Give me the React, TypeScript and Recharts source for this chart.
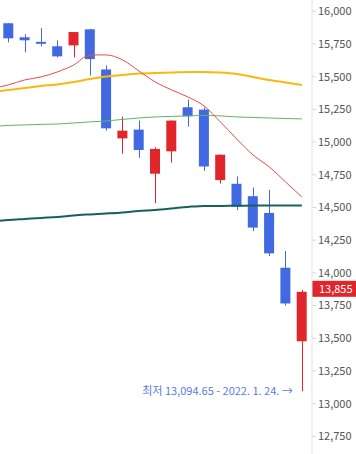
import { Bar, ComposedChart, Line, ReferenceDot, ReferenceLine, XAxis, YAxis } from "recharts";

// trading days, first one only feeds the averages (it sits off the left edge)
const dates = [
  "12.27", "12.28", "12.29", "12.30", "12.31", "1.3", "1.4", "1.5", "1.6", "1.7",
  "1.10", "1.11", "1.12", "1.13", "1.14", "1.18", "1.19", "1.20", "1.21", "1.24",
];
const opens = [null, 15908, 15801, 15766, 15732, 15739, 15862, 15555, 15028, 15095, 14758, 14929, 15266, 15248, 14709, 14681, 14586, 14458, 14039, 13477];
const highs = [null, 15910, 15824, 15870, 15778, 15841, 15865, 15586, 15195, 15164, 14960, 15166, 15325, 15264, 14905, 14737, 14652, 14635, 14167, 13870];
const lows = [null, 15762, 15686, 15732, 15647, 15647, 15509, 15087, 14911, 14880, 14532, 14843, 15118, 14780, 14683, 14479, 14320, 14129, 13750, 13094.65];
const closes = [null, 15793, 15778, 15751, 15655, 15841, 15634, 15105, 15087, 14939, 14947, 15164, 15197, 14813, 14903, 14507, 14346, 14149, 13766, 13855];

const ma5 = [15410, 15437, 15475, 15498, 15536, 15589, 15666, 15666, 15628, 15544, 15460, 15399, 15345, 15276, 15154, 15024, 14902, 14810, 14695, 14580];
const ma20 = [15383, 15398, 15413, 15429, 15440, 15459, 15482, 15502, 15513, 15524, 15528, 15532, 15536, 15536, 15532, 15521, 15498, 15475, 15456, 15437];
const ma60 = [15119, 15127, 15131, 15135, 15138, 15146, 15154, 15161, 15173, 15184, 15192, 15196, 15200, 15203, 15200, 15192, 15188, 15184, 15180, 15177];
const ma120 = [14393, 14404, 14412, 14420, 14427, 14439, 14447, 14454, 14462, 14473, 14481, 14492, 14504, 14512, 14512, 14513, 14514, 14514, 14515, 14515];

const yTicks = [12750, 13000, 13250, 13500, 13750, 14000, 14250, 14500, 14750, 15000, 15250, 15500, 15750, 16000];
const lastPrice = 13855;
const lowPoint = { date: "1.24", value: 13094.65, text: "최저 13,094.65 - 2022. 1. 24. →" };

const UP = "#e0262b";
const DOWN = "#4169e1";

const data = dates.map((date, i) => ({
  date,
  open: opens[i],
  high: highs[i],
  low: lows[i],
  close: closes[i],
  ma5: ma5[i],
  ma20: ma20[i],
  ma60: ma60[i],
  ma120: ma120[i],
}));

function Candle(props: any) {
  const { x, y, width, height, payload } = props;
  if (payload.open == null || !height) return null;
  const { open, close, high, low } = payload;
  const h = Math.abs(height);
  const top = Math.min(y, y + height);
  const per = h / (high - low);
  const yOf = (v: number) => top + (high - v) * per;
  const color = close >= open ? UP : DOWN;
  const bodyTop = yOf(Math.max(open, close));
  const bodyH = Math.max(1, yOf(Math.min(open, close)) - bodyTop);
  const cx = Math.round(x + width / 2) + 0.5;
  return (
    <g>
      <line x1={cx} x2={cx} y1={top} y2={top + h} stroke={color} strokeWidth={1} />
      <rect x={x} y={bodyTop} width={width} height={bodyH} fill={color} />
    </g>
  );
}

function PriceTag({ viewBox }: any) {
  if (!viewBox) return null;
  const right = viewBox.x + viewBox.width;
  return (
    <g>
      <rect x={right} y={viewBox.y - 11} width={44} height={16} fill={UP} />
      <text x={right + 7} y={viewBox.y + 1} fill="#fff" fontSize={11}>
        {lastPrice.toLocaleString("en-US")}
      </text>
    </g>
  );
}

export default function App() {
  return (
    <div
      style={{
        position: "absolute",
        left: 0,
        top: 0,
        width: 356,
        height: 454,
        overflow: "hidden",
        fontFamily: "'Noto Sans CJK KR', 'Noto Sans', sans-serif",
      }}
    >
      <div style={{ marginLeft: -16 }}>
        <ComposedChart width={372} height={454} data={data} margin={{ top: 0, right: 0, bottom: 0, left: 0 }}>
          <XAxis dataKey="date" hide padding={{ left: 0, right: 2 }} />
          <YAxis
            orientation="right"
            width={44}
            domain={[12615, 16086]}
            allowDataOverflow
            ticks={yTicks}
            tickFormatter={(v: number) => v.toLocaleString("en-US")}
            tick={{ fontSize: 11, fill: "#555" }}
            axisLine={{ stroke: "#e2e2e2" }}
            tickLine={{ stroke: "#d8d8d8" }}
            tickSize={4}
            tickMargin={2}
          />
          <Line dataKey="ma120" type="monotone" stroke="#17615c" strokeWidth={2} dot={false} isAnimationActive={false} />
          <Line dataKey="ma60" type="monotone" stroke="#5cb85c" strokeWidth={1} dot={false} isAnimationActive={false} />
          <Line dataKey="ma20" type="monotone" stroke="#fbb710" strokeWidth={2} dot={false} isAnimationActive={false} />
          <Line dataKey="ma5" type="monotone" stroke="#f04848" strokeWidth={1} dot={false} isAnimationActive={false} />
          <Bar
            dataKey={(d: any) => (d.low == null ? null : [d.low, d.high])}
            barSize={10}
            shape={<Candle />}
            isAnimationActive={false}
          />
          <ReferenceLine y={lastPrice} stroke="none" ifOverflow="visible" label={<PriceTag />} />
          <ReferenceDot
            x={lowPoint.date}
            y={lowPoint.value}
            r={0}
            shape={(p: any) => (
              <text x={p.cx - 9} y={p.cy + 4} textAnchor="end" fontSize={11} fill="#5a7be6">
                {lowPoint.text}
              </text>
            )}
          />
        </ComposedChart>
      </div>
    </div>
  );
}
